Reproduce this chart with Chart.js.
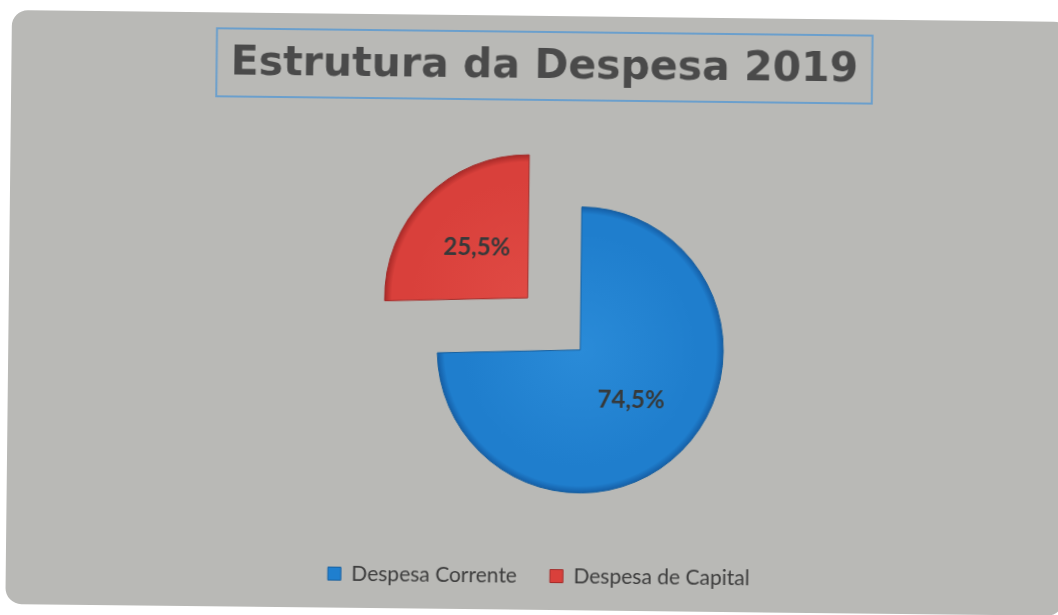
<!DOCTYPE html>
<html lang="pt">
<head>
<meta charset="utf-8">
<title>Estrutura da Despesa 2019</title>
<script src="https://cdn.jsdelivr.net/npm/chart.js@4.4.1/dist/chart.umd.min.js"></script>
<style>
  html, body { margin: 0; padding: 0; width: 1058px; height: 615px; overflow: hidden; background: #ffffff; }
  #panel {
    position: absolute; left: 12px; top: 9.5px;
    width: 1058px; height: 594px;
    background: #b9b9b6; border-radius: 16px; overflow: hidden;
    transform-origin: 0 0; transform: rotate(0.64deg);
  }
  #chart { display: block; }
</style>
</head>
<body>
<div id="panel"><canvas id="chart" width="1058" height="594"></canvas></div>
<script>
// Expenditure structure, 2019 (share of total, %)
const chartTitle = 'Estrutura da Despesa 2019';
const categories = ['Despesa Corrente', 'Despesa de Capital'];
const shares = [74.5, 25.5];

// Slice palette: [centre tone, mid tone, rim tone]
const palette = [
  ['#2a8bd8', '#1f7ecd', '#155ea6'],
  ['#e04a44', '#d9403b', '#a92a28']
];
const flatColors = ['#1f7fcf', '#d9403b'];
const edgeColors = ['#17609f', '#a32b29'];

const formatShare = v => v.toFixed(1).replace('.', ',') + '%';

// Radial shading that gives the slices a bevelled rim
function sliceFill(ctx) {
  const chart = ctx.chart;
  const area = chart.chartArea;
  const tones = palette[ctx.dataIndex];
  if (!area) return tones[1];
  const cx = (area.left + area.right) / 2;
  const cy = (area.top + area.bottom) / 2;
  const r = 143;
  const g = chart.ctx.createRadialGradient(cx, cy, 0, cx, cy, r);
  g.addColorStop(0, tones[0]);
  g.addColorStop(0.82, tones[1]);
  g.addColorStop(0.95, tones[1]);
  g.addColorStop(1, tones[2]);
  return g;
}

// Blue frame around the chart title
const titleFrame = {
  id: 'titleFrame',
  afterDraw(chart) {
    const tb = chart.titleBlock;
    if (!tb) return;
    const ctx = chart.ctx;
    const font = Chart.helpers.toFont(chart.options.plugins.title.font);
    ctx.save();
    ctx.font = font.string;
    const w = ctx.measureText(chartTitle).width + 28;
    const cx = (tb.left + tb.right) / 2;
    ctx.strokeStyle = '#6b9fcc';
    ctx.lineWidth = 2;
    ctx.strokeRect(cx - w / 2, tb.top + 16, w, 68);
    ctx.restore();
  }
};

// Percentage labels placed inside each (possibly exploded) slice
const sliceLabels = {
  id: 'sliceLabels',
  afterDatasetsDraw(chart) {
    const meta = chart.getDatasetMeta(0);
    const ctx = chart.ctx;
    ctx.save();
    ctx.font = 'bold 24px Lato, "Open Sans", sans-serif';
    ctx.fillStyle = '#36393a';
    ctx.textAlign = 'center';
    ctx.textBaseline = 'middle';
    meta.data.forEach((arc, i) => {
      const { x, y, startAngle, endAngle, outerRadius } = arc.getProps(['x', 'y', 'startAngle', 'endAngle', 'outerRadius'], true);
      const mid = (startAngle + endAngle) / 2;
      const shift = (arc.options.offset || 0) / 4;
      const d = outerRadius * 0.5 + shift;
      ctx.fillText(formatShare(shares[i]), x + Math.cos(mid) * d, y + Math.sin(mid) * d);
    });
    ctx.restore();
  }
};

new Chart(document.getElementById('chart'), {
  type: 'pie',
  data: {
    labels: categories,
    datasets: [{
      data: shares,
      backgroundColor: sliceFill,
      borderColor: edgeColors,
      borderWidth: 1,
      offset: [0, 296],
      hoverOffset: 0
    }]
  },
  options: {
    responsive: false,
    animation: false,
    radius: 143,
    layout: { padding: { left: 8, right: 0, top: 0, bottom: 13.5 } },
    plugins: {
      tooltip: { enabled: false },
      title: {
        display: true,
        text: chartTitle,
        color: '#4a4a4a',
        font: { family: '"DejaVu Sans", sans-serif', size: 41, weight: 'bold', lineHeight: 1.2 },
        padding: { top: 26.5, bottom: 75 }
      },
      // empty left-hand block that keeps the pie right of centre
      subtitle: {
        display: true,
        position: 'left',
        text: '',
        font: { size: 10, lineHeight: 1.2 },
        padding: { top: 33, bottom: 33 }
      },
      legend: {
        position: 'bottom',
        labels: {
          boxWidth: 13,
          boxHeight: 13,
          padding: 33,
          color: '#3d3d3d',
          font: { family: 'Lato, "Open Sans", sans-serif', size: 21 },
          generateLabels(chart) {
            const items = Chart.controllers.pie.overrides.plugins.legend.labels.generateLabels(chart);
            return items.map((it, i) => Object.assign(it, { fillStyle: flatColors[i], strokeStyle: edgeColors[i], lineWidth: 1 }));
          }
        }
      }
    }
  },
  plugins: [titleFrame, sliceLabels]
});
</script>
</body>
</html>
